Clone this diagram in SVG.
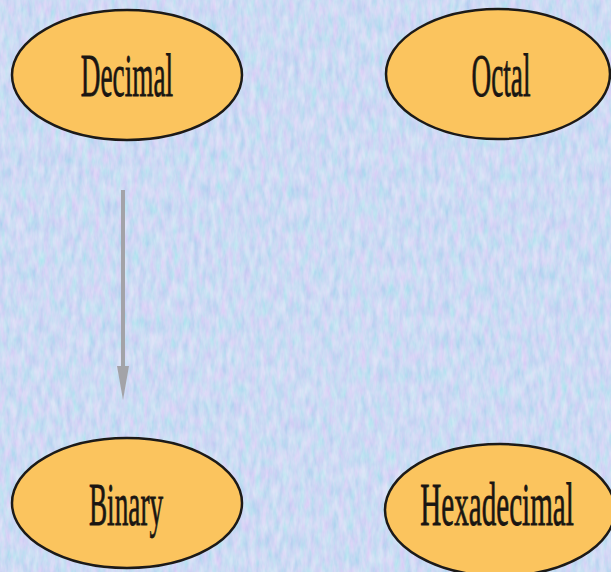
<svg xmlns="http://www.w3.org/2000/svg" width="611" height="572" viewBox="0 0 611 572">
<style>
.node ellipse{fill:#fbc45e;stroke:#1c1a18;stroke-width:2.5}
.node text{font-family:"Liberation Serif","Times New Roman",serif;font-size:62px;fill:#1a1612;stroke:#1a1612;stroke-width:0.8;text-anchor:middle}
.edge{stroke:#a3a3a8;stroke-width:4;fill:none}
</style>
<defs>
<filter id="tex" x="0" y="0" width="100%" height="100%">
<feTurbulence type="fractalNoise" baseFrequency="0.18 0.06" numOctaves="3" seed="7" result="n"/>
<feColorMatrix in="n" type="matrix" values="0.9 0 0 0 0.3  0 -0.5 0 0 1.05  0.2 0 0 0 0.85  0 0 0 0 1"/>
</filter>
</defs>
<rect width="611" height="572" fill="#b4ccee"/>
<rect width="611" height="572" filter="url(#tex)" opacity="0.55"/>
<g id="connectors">
<line class="edge" x1="123" y1="190" x2="123" y2="366"/>
<path d="M117,366 L129,366 L123,400 z" fill="#a3a3a8"/>
</g>
<g id="decimal" class="node">
<ellipse cx="127" cy="75" rx="115" ry="65"/>
<text transform="translate(127,96) scale(0.44,1)">Decimal</text>
</g>
<g id="octal" class="node">
<ellipse cx="498" cy="74" rx="112" ry="65"/>
<text transform="translate(501,96) scale(0.44,1)">Octal</text>
</g>
<g id="binary" class="node">
<ellipse cx="127" cy="503" rx="115" ry="65"/>
<text transform="translate(126,525) scale(0.44,1)">Binary</text>
</g>
<g id="hexadecimal" class="node">
<ellipse cx="500" cy="510" rx="115" ry="66"/>
<text transform="translate(497,525) scale(0.47,1)">Hexadecimal</text>
</g>
</svg>
